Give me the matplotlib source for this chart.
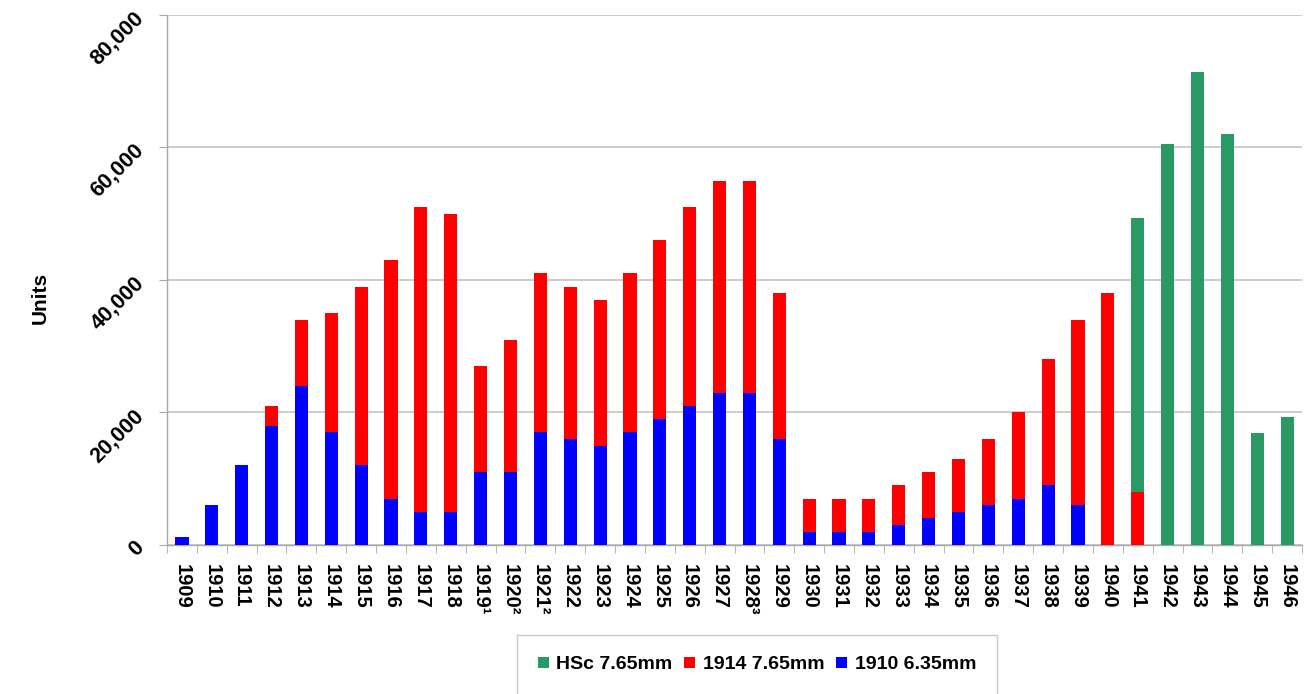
import numpy as np
import matplotlib
matplotlib.use('Agg')
import matplotlib.pyplot as plt
from matplotlib.patches import Patch

plt.rcParams['font.family'] = ['Liberation Sans', 'DejaVu Sans']
plt.rcParams['font.weight'] = 'bold'

# Jahre (x-Achse)
jahre = ['1909', '1910', '1911', '1912', '1913', '1914', '1915', '1916', '1917', '1918',
         '1919¹', '1920²', '1921²', '1922', '1923', '1924', '1925', '1926', '1927', '1928³',
         '1929', '1930', '1931', '1932', '1933', '1934', '1935', '1936', '1937', '1938',
         '1939', '1940', '1941', '1942', '1943', '1944', '1945', '1946']

# Stückzahlen je Modell (gestapelt: blau unten, rot Mitte, grün oben)
m1910_635 = [1200, 6000, 12000, 18000, 24000, 17000, 12000, 7000, 5000, 5000,
             11000, 11000, 17000, 16000, 15000, 17000, 19000, 21000, 23000, 23000,
             16000, 2000, 2000, 2000, 3000, 4000, 5000, 6000, 7000, 9000,
             6000, 0, 0, 0, 0, 0, 0, 0]
m1914_765 = [0, 0, 0, 3000, 10000, 18000, 27000, 36000, 46000, 45000,
             16000, 20000, 24000, 23000, 22000, 24000, 27000, 30000, 32000, 32000,
             22000, 5000, 5000, 5000, 6000, 7000, 8000, 10000, 13000, 19000,
             28000, 38000, 8000, 0, 0, 0, 0, 0]
hsc_765 = [0, 0, 0, 0, 0, 0, 0, 0, 0, 0,
           0, 0, 0, 0, 0, 0, 0, 0, 0, 0,
           0, 0, 0, 0, 0, 0, 0, 0, 0, 0,
           0, 0, 41300, 60500, 71400, 62000, 16900, 19300]

labels = ['HSc 7.65mm', '1914 7.65mm', '1910 6.35mm']
farben = ['#2a9a64', '#ff0000', '#0000ff']

fig = plt.figure(figsize=(13.1, 6.94), dpi=100)
ax = fig.add_axes([0.1275, 0.2147, 0.8664, 0.7637])

x = np.arange(len(jahre))
b = np.array(m1910_635)
r = np.array(m1914_765)
g = np.array(hsc_765)
breite = 0.44

ax.bar(x, b, breite, color=farben[2], zorder=3)
ax.bar(x, r, breite, bottom=b, color=farben[1], zorder=3)
ax.bar(x, g, breite, bottom=b + r, color=farben[0], zorder=3)

# Achsen
ax.set_xlim(-0.5, len(jahre) - 0.5)
ax.set_ylim(0, 80000)
ax.set_yticks(np.arange(0, 80001, 20000))
ax.set_yticklabels([f'{v:,}' for v in range(0, 80001, 20000)])
ax.yaxis.grid(True, color='#c4c4c4', linewidth=1.2, zorder=0)

for s in ['top', 'right']:
    ax.spines[s].set_visible(False)
for s in ['left', 'bottom']:
    ax.spines[s].set_color('#a8a8a8')
    ax.spines[s].set_linewidth(1.0)

ax.tick_params(axis='y', length=6, color='#a8a8a8', pad=13, labelsize=15.5)
for t in ax.get_yticklabels():
    t.set_rotation(45)
    t.set_rotation_mode('anchor')
    t.set_ha('right')
    t.set_va('center')
    t.set_fontweight('bold')

ax.set_xticks(x)
ax.set_xticklabels(jahre, rotation=270, fontsize=14.5, fontweight='bold', va='top', ha='center')
ax.set_xticks(np.arange(-0.5, len(jahre), 1), minor=True)
ax.tick_params(axis='x', which='major', length=0, pad=14)
ax.tick_params(axis='x', which='minor', length=6, color='#a8a8a8')

fig.text(40 / 1310, 1 - 298 / 694, 'Units', rotation=90, ha='center', va='center',
         fontsize=15, fontweight='bold')

# Legende
handles = [Patch(facecolor=f, edgecolor='none') for f in farben]
leg = fig.legend(handles, labels, loc='upper center', bbox_to_anchor=(757 / 1310, 1 - 635 / 694),
                 ncol=3, frameon=True, fancybox=False, fontsize=14, borderpad=1.1,
                 borderaxespad=0, handlelength=0.55, handleheight=0.55, handletextpad=0.4,
                 columnspacing=0.6)
leg.get_frame().set_edgecolor('#bdbdbd')
leg.get_frame().set_linewidth(1.0)
for t in leg.get_texts():
    t.set_fontweight('bold')

fig.savefig('out.png', dpi=100)
